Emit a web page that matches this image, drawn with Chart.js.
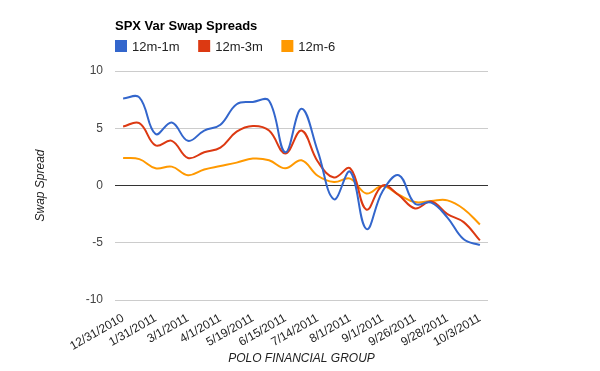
<!DOCTYPE html>
<html>
<head>
<meta charset="utf-8">
<script src="https://cdn.jsdelivr.net/npm/chart.js@4.4.1/dist/chart.umd.min.js"></script>
<style>
  html, body { margin: 0; padding: 0; background: #fff; }
  #wrap { width: 600px; height: 371px; }
</style>
</head>
<body>
<div id="wrap"><canvas id="myChart" width="600" height="371"></canvas></div>
<script>
const ctx = document.getElementById('myChart');

// dates (only every other one is labelled on the axis)
const categories = [
    '12/31/2010', '1/14/2011', '1/31/2011', '2/14/2011', '3/1/2011', '3/15/2011',
    '4/1/2011', '4/29/2011', '5/19/2011', '6/1/2011', '6/15/2011', '6/30/2011',
    '7/14/2011', '7/25/2011', '8/1/2011', '8/15/2011', '9/1/2011', '9/15/2011',
    '9/26/2011', '9/27/2011', '9/28/2011', '9/30/2011', '10/3/2011'
];

const spread1m = [7.6, 7.7, 4.5, 5.5, 3.9, 4.8, 5.3, 7.1, 7.3, 7.4, 2.9, 6.7,
    3.0, -1.2, 1.2, -3.8, -0.5, 0.9, -1.6, -1.5, -2.8, -4.7, -5.2];
const spread3m = [5.15, 5.45, 3.5, 3.9, 2.4, 2.9, 3.3, 4.7, 5.2, 4.8, 2.8, 4.8,
    2.1, 0.7, 1.5, -2.1, 0.0, -0.85, -2.0, -1.4, -2.5, -3.2, -4.8];
const spread6m = [2.4, 2.3, 1.5, 1.65, 0.9, 1.4, 1.7, 2.0, 2.35, 2.2, 1.5, 2.2,
    0.85, 0.3, 0.6, -0.7, -0.05, -0.8, -1.45, -1.35, -1.3, -2.05, -3.4];

const yTicks = [-10, -5, 0, 5, 10];

const font = 'Arial, "Liberation Sans", sans-serif';

const line = (label, data, color) => ({
    label: label,
    data: data,
    borderColor: color,
    backgroundColor: color,
    borderWidth: 2,
    pointRadius: 0,
    tension: 0.4,
    fill: false
});

// title + legend drawn by hand, google charts style (left aligned over the plot)
const headerPlugin = {
    id: 'header',
    afterDraw(chart) {
        const c = chart.ctx;
        const left = chart.chartArea.left;
        c.save();
        c.textBaseline = 'alphabetic';
        c.textAlign = 'left';
        c.fillStyle = '#000';
        c.font = 'bold 13px ' + font;
        c.fillText('SPX Var Swap Spreads', left, 30);

        c.font = '13px ' + font;
        let x = left;
        chart.data.datasets.forEach(ds => {
            c.fillStyle = ds.borderColor;
            c.fillRect(x, 40, 12, 12);
            c.fillStyle = '#222';
            c.fillText(ds.label, x + 17, 51);
            x += 17 + c.measureText(ds.label).width + 18.5;
        });
        c.restore();
    }
};

const chart = new Chart(ctx, {
    type: 'line',
    data: {
        labels: categories,
        datasets: [
            line('12m-1m', spread1m, '#3366cc'),
            line('12m-3m', spread3m, '#dc3912'),
            line('12m-6', spread6m, '#ff9900')
        ]
    },
    plugins: [headerPlugin],
    options: {
        responsive: false,
        animation: false,
        layout: { padding: { left: 0, right: 112, top: 71, bottom: 5 } },
        plugins: {
            title: { display: false },
            legend: { display: false },
            tooltip: { enabled: false }
        },
        scales: {
            x: {
                offset: true,
                grid: { display: false },
                border: { display: false },
                ticks: {
                    autoSkip: false,
                    minRotation: 30,
                    maxRotation: 30,
                    color: '#222',
                    font: { family: font, size: 12 },
                    callback: (v, i) => i % 2 ? '' : categories[i]
                },
                title: {
                    display: true,
                    text: 'POLO FINANCIAL GROUP',
                    color: '#222',
                    font: { family: font, size: 12, style: 'italic' },
                    padding: 0
                },
                afterFit: (scale) => { scale.height = 66; }
            },
            y: {
                min: -10,
                max: 10,
                afterBuildTicks: (scale) => { scale.ticks = yTicks.map(v => ({ value: v })); },
                grid: {
                    color: (c) => c.tick && c.tick.value === 0 ? '#333' : '#ccc',
                    drawTicks: false
                },
                border: { display: false },
                ticks: {
                    color: '#444',
                    padding: 12,
                    font: { family: font, size: 12 }
                },
                title: {
                    display: true,
                    text: 'Swap Spread',
                    color: '#222',
                    font: { family: font, size: 12, style: 'italic' },
                    padding: { top: 33, bottom: 0 }
                },
                afterFit: (scale) => { scale.width = 115; }
            }
        }
    }
});
</script>
</body>
</html>
